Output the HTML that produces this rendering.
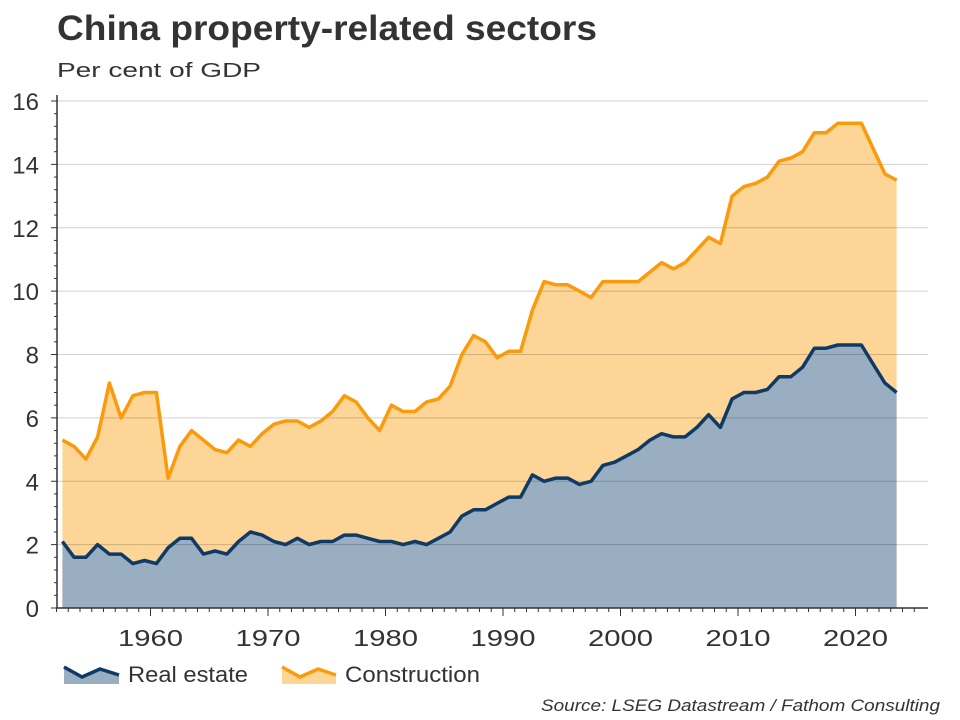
<!DOCTYPE html>
<html><head><meta charset="utf-8"><style>
body{margin:0;background:#fff;}
svg{display:block;font-family:"Liberation Sans",sans-serif;}
</style></head><body>
<svg id="chart" width="960" height="720" viewBox="0 0 960 720">
<text x="57" y="40" font-size="35" font-weight="bold" fill="#333" textLength="540" lengthAdjust="spacingAndGlyphs">China property-related sectors</text>
<text x="57" y="77" font-size="20" fill="#333" textLength="204" lengthAdjust="spacingAndGlyphs">Per cent of GDP</text>
<g id="plot"></g>
<g id="axes"></g>
<g>
<g>
<polygon points="64,667 82,677 100,669 119,675 119,684 64,684" fill="#9aaec2"/>
<polyline points="64,667 82,677 100,669 119,675" fill="none" stroke="#0f3a66" stroke-width="3.5"/>
<text x="128" y="682" font-size="22" fill="#333" textLength="120" lengthAdjust="spacingAndGlyphs">Real estate</text></g>
<g>
<polygon points="282,667 300,677 318,669 336,675 336,684 282,684" fill="#fdd597"/>
<polyline points="282,667 300,677 318,669 336,675" fill="none" stroke="#f99b0b" stroke-width="3.5"/>
<text x="345" y="682" font-size="22" fill="#333" textLength="135" lengthAdjust="spacingAndGlyphs">Construction</text></g>
</g>
<text x="940" y="711" text-anchor="end" font-size="17" font-style="italic" fill="#333" textLength="399" lengthAdjust="spacingAndGlyphs">Source: LSEG Datastream / Fathom Consulting</text>
</svg>
<script>
const startYear = 1952;
const construction = [5.3,5.1,4.7,5.4,7.1,6.0,6.7,6.8,6.8,4.1,5.1,5.6,5.3,5.0,4.9,5.3,5.1,5.5,5.8,5.9,5.9,5.7,5.9,6.2,6.7,6.5,6.0,5.6,6.4,6.2,6.2,6.5,6.6,7.0,8.0,8.6,8.4,7.9,8.1,8.1,9.4,10.3,10.2,10.2,10.0,9.8,10.3,10.3,10.3,10.3,10.6,10.9,10.7,10.9,11.3,11.7,11.5,13.0,13.3,13.4,13.6,14.1,14.2,14.4,15.0,15.0,15.3,15.3,15.3,14.5,13.7,13.5];
const realEstate = [2.1,1.6,1.6,2.0,1.7,1.7,1.4,1.5,1.4,1.9,2.2,2.2,1.7,1.8,1.7,2.1,2.4,2.3,2.1,2.0,2.2,2.0,2.1,2.1,2.3,2.3,2.2,2.1,2.1,2.0,2.1,2.0,2.2,2.4,2.9,3.1,3.1,3.3,3.5,3.5,4.2,4.0,4.1,4.1,3.9,4.0,4.5,4.6,4.8,5.0,5.3,5.5,5.4,5.4,5.7,6.1,5.7,6.6,6.8,6.8,6.9,7.3,7.3,7.6,8.2,8.2,8.3,8.3,8.3,7.7,7.1,6.8];
const yTicks = [0,2,4,6,8,10,12,14,16];
const xTickYears = [1960,1970,1980,1990,2000,2010,2020];

const NS='http://www.w3.org/2000/svg';
const X0=57, X1=928, Y0=608, Y1=101;
const xs = yr => 150.5 + (yr-1960)*11.75;
const ys = v => Y0 - v*(Y0-Y1)/16;
function mk(tag, attrs, parent){const e=document.createElementNS(NS,tag);for(const k in attrs)e.setAttribute(k,attrs[k]);parent.appendChild(e);return e;}
const plot=document.getElementById('plot'), axes=document.getElementById('axes');
const px = i => xs(startYear+i+0.5);
function linePts(arr){return arr.map((v,i)=>px(i).toFixed(1)+','+ys(v).toFixed(1)).join(' ');}
function areaPts(arr){const n=arr.length;return linePts(arr)+' '+px(n-1).toFixed(1)+','+Y0+' '+px(0).toFixed(1)+','+Y0;}

const cArea=mk('polygon',{points:areaPts(construction),fill:'#fdd597'},plot);


const rArea=mk('polygon',{points:areaPts(realEstate),fill:'#9aaec2'},plot);


yTicks.forEach(t=>{ if(t===0) return;
  const g=mk('line',{x1:X0,x2:X1,y1:ys(t),y2:ys(t),stroke:'rgba(0,0,0,0.18)','stroke-width':1},plot);
  
  
});
const cLine=mk('polyline',{points:linePts(construction),fill:'none',stroke:'#f99b0b','stroke-width':3.5,'stroke-linejoin':'round'},plot);


const rLine=mk('polyline',{points:linePts(realEstate),fill:'none',stroke:'#0f3a66','stroke-width':3.5,'stroke-linejoin':'round'},plot);



mk('line',{x1:X0,x2:X0,y1:95,y2:Y0,stroke:'#333','stroke-width':1.5},axes);
mk('line',{x1:X0,x2:X1,y1:Y0,y2:Y0,stroke:'#333','stroke-width':1.5},axes);
for(let v=0; v<=16.001; v+=0.4){
  const major=Math.abs(v/2-Math.round(v/2))<1e-6;
  mk('line',{x1:X0-(major?6:3),x2:X0,y1:ys(v),y2:ys(v),stroke:'#333','stroke-width':1},axes);
}
yTicks.forEach(t=>{
  const tx=mk('text',{x:39,y:ys(t)+9,'text-anchor':'end','font-size':24,fill:'#333'},axes);
  tx.textContent=t;
  
  
});
for(let yr=1952; yr<=2025; yr++){
  const major=yr%10===0;
  mk('line',{x1:xs(yr),x2:xs(yr),y1:Y0,y2:Y0+(major?8:4),stroke:'#333','stroke-width':1},axes);
}
xTickYears.forEach(yr=>{
  const tx=mk('text',{x:xs(yr),y:646,'text-anchor':'middle','font-size':23,fill:'#333',textLength:65,lengthAdjust:'spacingAndGlyphs'},axes);
  tx.textContent=yr;
  
  
});
</script>
</body></html>
